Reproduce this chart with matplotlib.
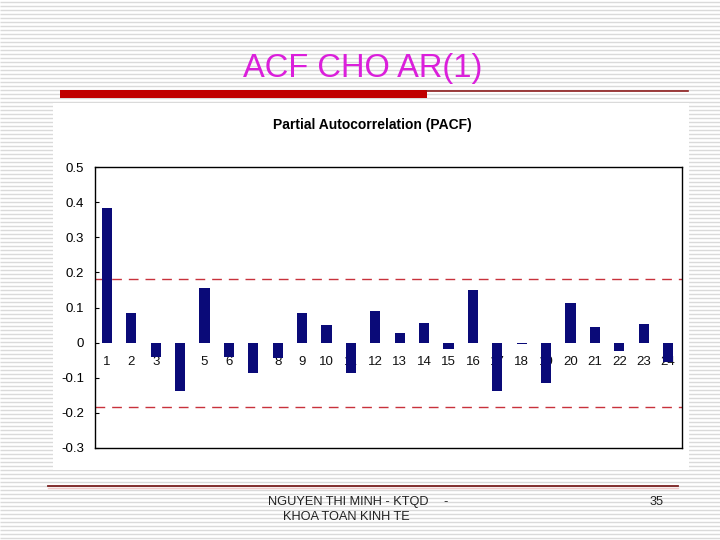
import matplotlib
matplotlib.use("Agg")
import matplotlib.pyplot as plt
import matplotlib.patches as mpatches
import numpy as np

# ── PACF values ───────────────────────────────────────────────────────────────
lags = list(range(1, 25))
pacf = [0.383, 0.085, -0.042, -0.137, 0.155, -0.040, -0.086, -0.045,
        0.085, 0.050, -0.086, 0.090, 0.028, 0.057, -0.019, 0.150,
        -0.137, -0.003, -0.114, 0.114, 0.044, -0.023, 0.053, -0.056]
conf_band = 0.182
y_ticks = [0.5, 0.4, 0.3, 0.2, 0.1, 0, -0.1, -0.2, -0.3]
y_tick_labels = ["0.5", "0.4", "0.3", "0.2", "0.1", "0", "-0.1", "-0.2", "-0.3"]

W, H = 720, 540
fig = plt.figure(figsize=(7.2, 5.4), dpi=100)
plt.rcParams["font.family"] = ["Liberation Sans", "DejaVu Sans"]

# ── slide background: striped paper ───────────────────────────────────────────
bg = fig.add_axes([0, 0, 1, 1])
bg.set_xlim(0, W)
bg.set_ylim(H, 0)
bg.axis("off")
for yy in np.arange(1.5, H, 4.0):
    bg.plot([0, W], [yy, yy], color="#dadada", lw=1.0, solid_capstyle="butt")

# white chart panel
bg.add_patch(mpatches.Rectangle((53, 103), 636, 367, facecolor="white",
                                edgecolor="none", zorder=2))

# title + red rule
bg.text(363, 69, "ACF CHO AR(1)", ha="center", va="center",
        fontsize=23.5, color="#DB1FDB", zorder=3)
bg.add_patch(mpatches.Rectangle((60, 90), 367, 8, facecolor="#C00000",
                                edgecolor="none", zorder=3))
bg.plot([427, 688], [90.5, 90.5], color="#8B1A1A", lw=1.2, zorder=3)

# footer
bg.plot([48, 678], [486, 486], color="#7A1F1F", lw=1.3, zorder=3)
bg.plot([48, 678], [487.5, 487.5], color="#f0c8c8", lw=1.0, zorder=3)
bg.text(268, 502, "NGUYEN THI MINH - KTQD", ha="left", va="center",
        fontsize=9.2, color="#222222", zorder=3)
bg.text(446, 502, "-", ha="center", va="center",
        fontsize=9.2, color="#222222", zorder=3)
bg.text(346, 517, "KHOA TOAN KINH TE", ha="center", va="center",
        fontsize=9.2, color="#222222", zorder=3)
bg.text(657, 502, "35", ha="center", va="center",
        fontsize=9.2, color="#222222", zorder=3)

# chart title
bg.text(372, 125, "Partial Autocorrelation (PACF)", ha="center", va="center",
        fontsize=10, fontweight="bold", color="black", zorder=3)

# ── PACF chart ────────────────────────────────────────────────────────────────
ax = fig.add_axes([95 / W, 1 - 448 / H, 587 / W, 281 / H])
ax.set_facecolor("white")
ax.set_xlim(0.51, 24.57)
ax.set_ylim(-0.3, 0.5)

ax.bar(lags, pacf, width=0.42, color="#0A0A78", edgecolor="none", zorder=3)
ax.axhline(conf_band, color="#C8323C", lw=1, dashes=(7, 5), zorder=2)
ax.axhline(-conf_band, color="#C8323C", lw=1, dashes=(7, 5), zorder=2)

# lag numbers sit inside the plot just under zero
for lag in lags:
    ax.text(lag, -0.054, str(lag), ha="center", va="center",
            fontsize=9.5, color="#111111", zorder=1)
ax.set_xticks([])

ax.set_yticks(y_ticks)
ax.set_yticklabels(y_tick_labels, fontsize=9.5)
ax.tick_params(axis="y", direction="in", length=3, width=0.8, pad=8)
for s in ax.spines.values():
    s.set_linewidth(1)
    s.set_color("black")

fig.savefig("out.png", dpi=100)
